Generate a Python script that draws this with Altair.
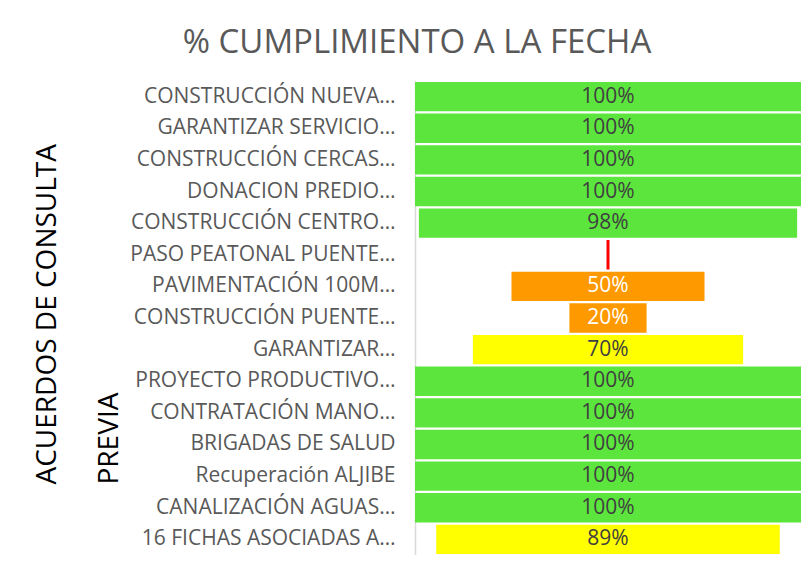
import altair as alt
import pandas as pd

labels = [
    "CONSTRUCCIÓN NUEVA…",
    "GARANTIZAR SERVICIO…",
    "CONSTRUCCIÓN CERCAS…",
    "DONACION PREDIO…",
    "CONSTRUCCIÓN CENTRO…",
    "PASO PEATONAL PUENTE…",
    "PAVIMENTACIÓN 100M…",
    "CONSTRUCCIÓN PUENTE…",
    "GARANTIZAR…",
    "PROYECTO PRODUCTIVO…",
    "CONTRATACIÓN MANO…",
    "BRIGADAS DE SALUD",
    "Recuperación ALJIBE",
    "CANALIZACIÓN AGUAS…",
    "16 FICHAS ASOCIADAS A…",
]
values = [100, 100, 100, 100, 98, 0, 50, 20, 70, 100, 100, 100, 100, 100, 89]

df = pd.DataFrame({"label": labels, "value": values})

FONT = "Open Sans"

base = alt.Chart(df).transform_calculate(
    lo="(100 - datum.value) / 2",
    hi="(100 + datum.value) / 2",
    mid="50",
    grp="datum.value == 0 ? 'cero' : datum.value >= 90 ? 'alto' : datum.value >= 60 ? 'medio' : 'bajo'",
    txt="datum.value > 0 ? datum.value + '%' : ''",
)

y = alt.Y(
    "label:N",
    sort=labels,
    title=["ACUERDOS DE CONSULTA", "PREVIA"],
    scale=alt.Scale(paddingInner=0.07, paddingOuter=0.03),
    axis=alt.Axis(
        labelFont=FONT,
        labelFontSize=21,
        labelColor="#595959",
        labelPadding=20,
        labelLimit=400,
        ticks=False,
        domainColor="#d9d9d9",
        domainWidth=1.5,
        titleFont=FONT,
        titleFontSize=28,
        titleFontWeight="normal",
        titleColor="#000000",
        titleAngle=-90,
        titleAlign="left",
        titleBaseline="top",
        titleLineHeight=62,
        titleX=-382,
        titleY=403,
    ),
)
xscale = alt.Scale(domain=[0, 100])

bars = base.mark_bar().encode(
    x=alt.X("lo:Q", scale=xscale, axis=None),
    x2="hi:Q",
    y=y,
    color=alt.Color(
        "grp:N",
        scale=alt.Scale(
            domain=["alto", "medio", "bajo", "cero"],
            range=["#5ce63d", "#ffff00", "#ff9900", "#ff0000"],
        ),
        legend=None,
    ),
)

zero = base.transform_filter("datum.value == 0").mark_bar(
    color="#ff0000", stroke="#ff0000", strokeWidth=3
).encode(
    x=alt.X("lo:Q", scale=xscale, axis=None),
    x2="hi:Q",
    y=y,
)

text = base.mark_text(font=FONT, fontSize=21).encode(
    x=alt.X("mid:Q", scale=xscale, axis=None),
    y=y,
    text="txt:N",
    color=alt.condition("datum.grp == 'bajo'", alt.value("#ffffff"), alt.value("#404040")),
)

chart = (
    alt.layer(bars, zero, text)
    .properties(
        width=386,
        height=474,
        padding={"left": 407, "top": 73, "right": 0, "bottom": 0},
        autosize=alt.AutoSizeParams(type="none"),
        title=alt.TitleParams(
            "% CUMPLIMIENTO A LA FECHA",
            font=FONT,
            fontSize=33,
            fontWeight="normal",
            color="#595959",
            anchor="middle",
            baseline="alphabetic",
            offset=25,
            dy=30,
            dx=-191,
        ),
    )
    .configure_view(stroke=None)
)

chart.save("out.html", embed_options={"renderer": "svg", "actions": False})
